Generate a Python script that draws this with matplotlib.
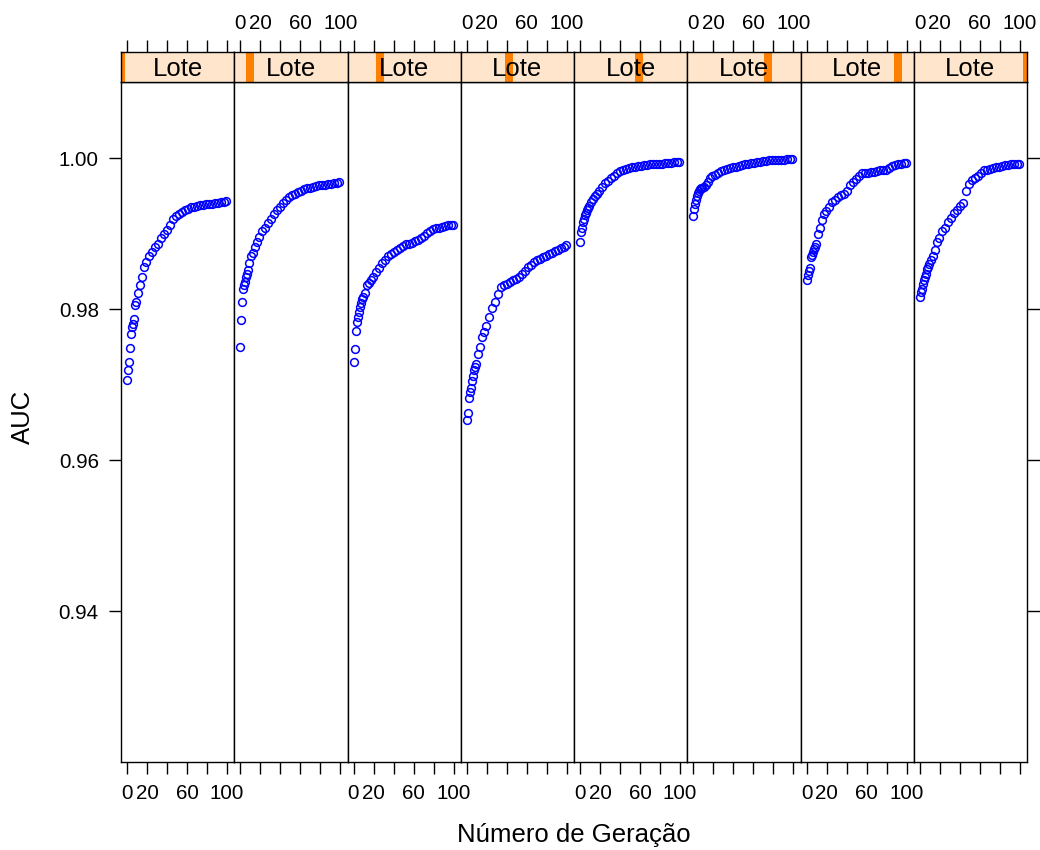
import matplotlib
matplotlib.use('Agg')
import matplotlib.pyplot as plt
from matplotlib.patches import Rectangle

plt.rcParams['font.family'] = ['Liberation Sans', 'DejaVu Sans']

# Geração (x) sampled along each curve
geracao = [0, 1, 2, 3, 4, 5, 6, 7, 8, 9, 11, 13, 15, 17, 19, 22, 25, 28, 31, 34, 37,
           40, 43, 46, 49, 52, 55, 58, 61, 64, 67, 70, 73, 76, 79, 82, 85, 88, 91, 94, 97, 99]

# AUC per lote
auc_lote1 = [0.9706, 0.9720, 0.9730, 0.9749, 0.9767, 0.9777, 0.9780, 0.9787, 0.9805, 0.9810,
             0.9821, 0.9832, 0.9843, 0.9856, 0.9863, 0.9870, 0.9876, 0.9882, 0.9887, 0.9894,
             0.9899, 0.9905, 0.9912, 0.9920, 0.9923, 0.9926, 0.9929, 0.9931, 0.9933, 0.9935,
             0.9936, 0.9937, 0.9938, 0.9938, 0.9939, 0.9940, 0.9940, 0.9941, 0.9941, 0.9942,
             0.9942, 0.9943]
auc_lote2 = [0.9750, 0.9785, 0.9810, 0.9827, 0.9832, 0.9836, 0.9843, 0.9847, 0.9852, 0.9861,
             0.9870, 0.9875, 0.9883, 0.9889, 0.9896, 0.9903, 0.9908, 0.9914, 0.9920, 0.9926,
             0.9931, 0.9936, 0.9941, 0.9944, 0.9948, 0.9951, 0.9953, 0.9955, 0.9957, 0.9959,
             0.9960, 0.9961, 0.9962, 0.9963, 0.9964, 0.9964, 0.9965, 0.9966, 0.9966, 0.9967,
             0.9967, 0.9968]
auc_lote3 = [0.9730, 0.9747, 0.9771, 0.9783, 0.9789, 0.9796, 0.9803, 0.9808, 0.9813, 0.9816,
             0.9822, 0.9832, 0.9835, 0.9838, 0.9843, 0.9849, 0.9855, 0.9861, 0.9865, 0.9870,
             0.9873, 0.9876, 0.9878, 0.9881, 0.9884, 0.9886, 0.9887, 0.9888, 0.9890, 0.9892,
             0.9894, 0.9897, 0.9901, 0.9904, 0.9906, 0.9907, 0.9908, 0.9909, 0.9910, 0.9911,
             0.9911, 0.9912]
auc_lote4 = [0.9653, 0.9662, 0.9682, 0.9690, 0.9696, 0.9705, 0.9711, 0.9719, 0.9724, 0.9728,
             0.9741, 0.9750, 0.9763, 0.9770, 0.9778, 0.9790, 0.9802, 0.9810, 0.9820, 0.9829,
             0.9832, 0.9834, 0.9836, 0.9838, 0.9840, 0.9842, 0.9846, 0.9851, 0.9856, 0.9859,
             0.9862, 0.9865, 0.9867, 0.9869, 0.9871, 0.9873, 0.9875, 0.9877, 0.9879, 0.9881,
             0.9883, 0.9885]
auc_lote5 = [0.9889, 0.9902, 0.9908, 0.9916, 0.9919, 0.9925, 0.9928, 0.9931, 0.9934, 0.9937,
             0.9942, 0.9946, 0.9950, 0.9953, 0.9957, 0.9962, 0.9967, 0.9970, 0.9974, 0.9977,
             0.9980, 0.9983, 0.9985, 0.9986, 0.9987, 0.9988, 0.9989, 0.9990, 0.9990, 0.9991,
             0.9991, 0.9992, 0.9992, 0.9993, 0.9993, 0.9993, 0.9994, 0.9994, 0.9994, 0.9995,
             0.9995, 0.9995]
auc_lote6 = [0.9923, 0.9933, 0.9940, 0.9944, 0.9950, 0.9954, 0.9957, 0.9959, 0.9960, 0.9961,
             0.9962, 0.9964, 0.9968, 0.9974, 0.9977, 0.9978, 0.9980, 0.9983, 0.9985, 0.9986,
             0.9987, 0.9988, 0.9989, 0.9990, 0.9991, 0.9992, 0.9993, 0.9994, 0.9994, 0.9995,
             0.9995, 0.9996, 0.9996, 0.9997, 0.9997, 0.9997, 0.9998, 0.9998, 0.9998, 0.9999,
             0.9999, 0.9999]
auc_lote7 = [0.9838, 0.9845, 0.9850, 0.9855, 0.9869, 0.9872, 0.9876, 0.9880, 0.9883, 0.9887,
             0.9900, 0.9908, 0.9918, 0.9926, 0.9930, 0.9936, 0.9942, 0.9945, 0.9949, 0.9951,
             0.9953, 0.9956, 0.9964, 0.9969, 0.9973, 0.9977, 0.9980, 0.9980, 0.9981, 0.9982,
             0.9982, 0.9983, 0.9984, 0.9985, 0.9985, 0.9987, 0.9990, 0.9991, 0.9992, 0.9993,
             0.9994, 0.9994]
auc_lote8 = [0.9816, 0.9823, 0.9827, 0.9833, 0.9838, 0.9842, 0.9847, 0.9853, 0.9856, 0.9860,
             0.9865, 0.9870, 0.9878, 0.9889, 0.9894, 0.9903, 0.9908, 0.9916, 0.9921, 0.9928,
             0.9932, 0.9937, 0.9941, 0.9956, 0.9966, 0.9971, 0.9974, 0.9977, 0.9981, 0.9984,
             0.9985, 0.9986, 0.9987, 0.9988, 0.9989, 0.9990, 0.9991, 0.9991, 0.9992, 0.9992,
             0.9992, 0.9992]

lotes = [auc_lote1, auc_lote2, auc_lote3, auc_lote4,
         auc_lote5, auc_lote6, auc_lote7, auc_lote8]

xticks = [0, 20, 40, 60, 80, 100]
xticklabels = ['0', '20', '', '60', '', '100']
yticks = [0.94, 0.96, 0.98, 1.00]

# layout in pixels
W, H = 1040, 850
left, right, top, bottom, strip_h = 121, 1027, 82, 762, 30
pw = (right - left) / 8
n = len(lotes)

fig = plt.figure(figsize=(10.4, 8.5), dpi=100)

for i, auc in enumerate(lotes):
    x0 = left + i * pw
    ax = fig.add_axes([x0 / W, (H - bottom) / H, pw / W, (bottom - top) / H])
    st = fig.add_axes([x0 / W, (H - top) / H, pw / W, strip_h / H])

    ax.plot(geracao, auc, 'o', mfc='none', mec='blue', ms=5.6, mew=1.1)
    ax.set_xlim(-6, 107.25)
    ax.set_ylim(0.92, 1.0101)

    ax.set_xticks(xticks)
    ax.set_xticklabels(xticklabels)
    ax.tick_params(axis='x', direction='out', length=8.5, width=1, labelsize=14.8, pad=7,
                   labelbottom=(i % 2 == 0))
    if i == 0:
        ax.set_yticks(yticks)
        ax.set_yticklabels(['%.2f' % v for v in yticks])
        ax.tick_params(axis='y', direction='out', length=9, width=1, labelsize=14.8, pad=7)
    elif i == n - 1:
        ax.set_yticks(yticks)
        ax.yaxis.tick_right()
        ax.tick_params(axis='y', direction='out', length=9, width=1, labelright=False)
    else:
        ax.set_yticks([])
    for s in ax.spines.values():
        s.set_linewidth(1.0)

    # strip
    st.set_facecolor('#ffe5cc')
    st.set_xlim(-6, 107.25)
    st.set_ylim(0, 1)
    st.set_yticks([])
    st.xaxis.tick_top()
    st.set_xticks(xticks)
    st.set_xticklabels(xticklabels)
    st.tick_params(axis='x', direction='out', length=8.5, width=1, labelsize=14.8, pad=5,
                   labeltop=(i % 2 == 1))
    c = i / (n - 1)
    hw = 0.035
    st.add_patch(Rectangle((max(c - hw, 0), 0), min(c + hw, 1) - max(c - hw, 0), 1,
                           transform=st.transAxes, facecolor='#ff7f00', edgecolor='none'))
    st.text(0.5, 0.45, 'Lote', transform=st.transAxes, ha='center', va='center',
            fontsize=18.5)
    for s in st.spines.values():
        s.set_linewidth(1.0)

fig.text(574 / W, 1 - 835 / H, 'Número de Geração', ha='center', va='center', fontsize=18.5)
fig.text(23 / W, 1 - 417 / H, 'AUC', ha='center', va='center', rotation=90, fontsize=18.5)

fig.savefig('out.png', dpi=100)
